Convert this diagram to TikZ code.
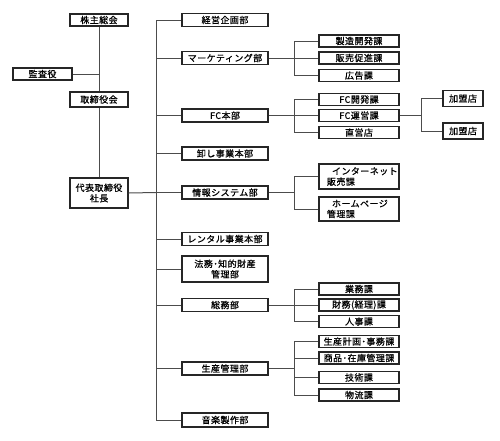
\documentclass[tikz,border=0pt]{standalone}
\usepackage{fontspec}
\setmainfont{Noto Sans CJK JP}[LetterSpace=5,FakeBold=0.8]
\begin{document}
\begin{tikzpicture}[x=1pt,y=-1pt,
  box/.style={draw=black!85,line width=1.2pt,fill=white,inner sep=0pt,
    font=\fontsize{9}{10.5}\selectfont,align=center},
  lbox/.style={box,minimum width=58pt,minimum height=12pt},
  mbox/.style={box,minimum width=86pt,minimum height=13pt},
  rbox/.style={box,minimum width=80pt,minimum height=12pt},
  rbox2/.style={box,minimum width=80pt,minimum height=24pt,align=left,
    text width=64pt,inner xsep=8pt},
  kbox/.style={box,minimum width=40pt,minimum height=16pt},
  conn/.style={draw=black!70,line width=1pt}]
\useasboundingbox (0,0) rectangle (500,440);
% left column
\node[lbox] (kabu) at (99,20) {株主総会};
\node[lbox,minimum width=59pt] (kansa) at (42.5,74) {監査役};
\node[lbox,minimum height=15pt] (tori) at (99,99.5) {取締役会};
\node[lbox,minimum height=30pt] (shacho) at (99,193) {代表取締役\\社長};
% middle column
\node[mbox] (keiei) at (225,20) {経営企画部};
\node[mbox] (mkt) at (225,58) {マーケティング部};
\node[mbox] (fc) at (225,115.5) {FC本部};
\node[mbox] (oroshi) at (225,153.5) {卸し事業本部};
\node[mbox] (joho) at (225,192.5) {情報システム部};
\node[mbox] (rental) at (225,239) {レンタル事業本部};
\node[mbox,minimum height=26pt] (homu) at (225,269) {法務･知的財産\\管理部};
\node[mbox] (somu) at (225,305) {総務部};
\node[mbox] (seisan) at (225,368.5) {生産管理部};
\node[mbox,minimum height=14pt] (ongaku) at (225,420) {音楽製作部};
% right column
\node[rbox] (s11) at (359,41) {製造開発課};
\node[rbox] (s12) at (359,58) {販売促進課};
\node[rbox] (s13) at (359,75.5) {広告課};
\node[rbox] (s21) at (359,99.5) {FC開発課};
\node[rbox] (s22) at (359,115.5) {FC運営課};
\node[rbox] (s23) at (359,132.5) {直営店};
\node[rbox2,minimum height=25pt] (s31) at (359,176.5) {\hspace*{5pt}インターネット\\販売課};
\node[rbox2] (s32) at (359,209) {\hspace*{5pt}ホームページ\\管理課};
\node[rbox] (s41) at (359,289) {業務課};
\node[rbox] (s42) at (359,305) {財務(経理)課};
\node[rbox] (s43) at (359,321.5) {人事課};
\node[rbox] (s51) at (359,341.5) {生産計画･事務課};
\node[rbox] (s52) at (359,358) {商品･在庫管理課};
\node[rbox] (s53) at (359,377.5) {技術課};
\node[rbox] (s54) at (359,395) {物流課};
% kameiten
\node[kbox] (k1) at (463,98.5) {加盟店};
\node[kbox] (k2) at (463,131) {加盟店};
% coordinates
\coordinate (T) at (156,192.5);
\coordinate (B) at (294,0);
\coordinate (K) at (421,0);
\coordinate (J) at (99,74);
% left connectors
\draw[conn] (kabu.south) -- (tori.north);
\draw[conn] (kansa.east) -- (J);
\draw[conn] (tori.south) -- (shacho.north);
\draw[conn] (shacho.east) -- (T);
% trunk
\draw[conn] (keiei.west) -| (T |- ongaku.west) -- (ongaku.west);
\foreach \n in {mkt,fc,oroshi,joho,rental,homu,somu,seisan}
  \draw[conn] (\n.west) -- (T |- \n.west);
% marketing
\draw[conn] (mkt.east) -- (s12.west);
\draw[conn] (s11.west) -| (B |- s11.west) |- (s13.west);
% FC
\draw[conn] (fc.east) -- (s22.west);
\draw[conn] (s21.west) -| (B |- s21.west) |- (s23.west);
\draw[conn] (s22.east) -- (K |- s22.east);
\draw[conn] (k1.west) -| (K |- k1.west) |- (k2.west);
% joho
\draw[conn] (joho.east) -- (B |- joho.east);
\draw[conn] (s31.west) -| (B |- s31.west) |- (s32.west);
% somu
\draw[conn] (somu.east) -- (s42.west);
\draw[conn] (s41.west) -| (B |- s41.west) |- (s43.west);
% seisan
\draw[conn] (seisan.east) -- (B |- seisan.east);
\draw[conn] (s51.west) -| (B |- s51.west) |- (s54.west);
\draw[conn] (s52.west) -- (B |- s52.west);
\draw[conn] (s53.west) -- (B |- s53.west);
\end{tikzpicture}
\end{document}
